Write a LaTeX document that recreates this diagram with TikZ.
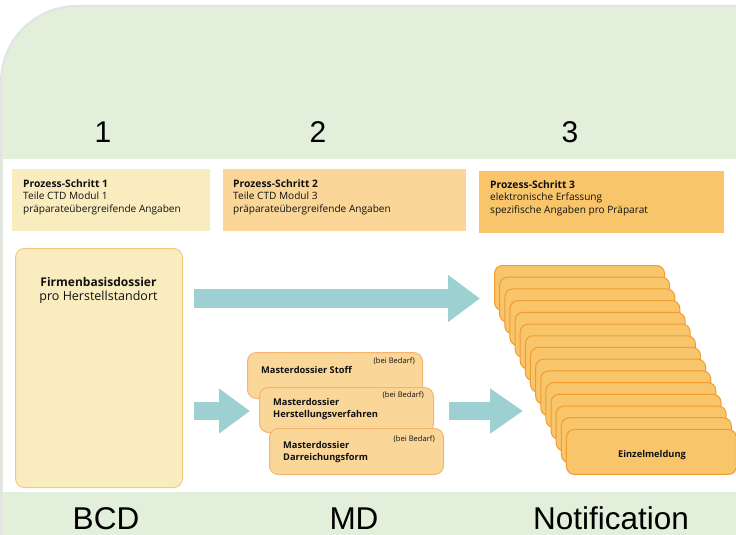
\documentclass[tikz,border=0pt]{standalone}
\usepackage{fontspec}
\setmainfont{Open Sans}
\newfontfamily\arialfont{Liberation Sans}
\usetikzlibrary{arrows.meta}
\definecolor{bggreen}{HTML}{E2EFDA}
\definecolor{bgedge}{HTML}{E3E3E3}
\definecolor{paleyellow}{HTML}{F9ECBE}
\definecolor{lightorange}{HTML}{FAD699}
\definecolor{midorange}{HTML}{F8C56B}
\definecolor{firmedge}{HTML}{F8C77F}
\definecolor{masteredge}{HTML}{F6B46E}
\definecolor{cardedge}{HTML}{F29C30}
\definecolor{teal}{HTML}{9DD0D1}
\definecolor{txt}{HTML}{111111}
\tikzset{
  procbox/.style={anchor=north west, inner sep=0pt, minimum height=62pt},
  proctitle/.style={anchor=base west, inner sep=0pt, text=txt, font=\fontsize{10.3}{12}\selectfont\bfseries},
  proctext/.style={anchor=base west, inner sep=0pt, text=txt, font=\fontsize{10.1}{12}\selectfont},
  masterbox/.style={anchor=north west, inner sep=0pt, rounded corners=9pt, fill=lightorange, draw=masteredge, line width=1pt, minimum width=175pt, minimum height=46pt},
  mastertext/.style={anchor=base west, inner sep=0pt, text=txt, font=\fontsize{9.3}{11}\selectfont\bfseries},
  bedarf/.style={anchor=base east, inner sep=0pt, text=txt, font=\fontsize{7.6}{9}\selectfont},
  card/.style={anchor=north west, inner sep=0pt, rounded corners=8pt, fill=midorange, draw=cardedge, line width=1pt, minimum width=170pt, minimum height=45pt},
  bignum/.style={inner sep=0pt, text=black, font=\arialfont\fontsize{30}{32}\selectfont},
  biglabel/.style={anchor=base, inner sep=0pt, text=black, font=\arialfont\fontsize{31.5}{34}\selectfont},
  blockarrow/.style={draw=teal, line width=#1},
}
\begin{document}
\begin{tikzpicture}[x=1pt, y=-1pt]
\useasboundingbox (0,0) rectangle (736,535);
% green background with rounded top-left corner
\path[fill=bggreen, draw=bgedge, line width=2pt] (1,545) -- (1,82) .. controls (1,40) and (35,6) .. (77,6) -- (745,6) -- (745,545) -- cycle;
% white panel
\fill[white] (3,159) rectangle (740,492);

% step numbers
\node[bignum] (n1) at (103,132) {1};
\node[bignum] (n2) at (318,132) {2};
\node[bignum] (n3) at (570,132) {3};

% process boxes
\node[procbox, fill=paleyellow, minimum width=198pt] (pb1) at (12,169) {};
\node[procbox, fill=lightorange, minimum width=243pt] (pb2) at (223,169) {};
\node[procbox, fill=midorange, minimum width=245pt] (pb3) at (479,171) {};

\node[proctitle] (p1a) at (23,187) {Prozess-Schritt 1};
\node[proctext] (p1b) at (23,199.5) {Teile CTD Modul 1};
\node[proctext] (p1c) at (23,212) {präparateübergreifende Angaben};

\node[proctitle] (p2a) at (233,187) {Prozess-Schritt 2};
\node[proctext] (p2b) at (233,199.5) {Teile CTD Modul 3};
\node[proctext] (p2c) at (233,212) {präparateübergreifende Angaben};

\node[proctitle] (p3a) at (490,188) {Prozess-Schritt 3};
\node[proctext] (p3b) at (490,200.5) {elektronische Erfassung};
\node[proctext] (p3c) at (490,213) {spezifische Angaben pro Präparat};

% Firmenbasisdossier
\node[anchor=north west, inner sep=0pt, rounded corners=9pt, fill=paleyellow, draw=firmedge, line width=1pt, minimum width=167pt, minimum height=239pt] (fbd) at (15,248) {};
\node[anchor=base, inner sep=0pt, text=txt, font=\fontsize{12}{14}\selectfont\bfseries] (fbda) at (98.5,286) {Firmenbasisdossier};
\node[anchor=base, inner sep=0pt, text=txt, font=\fontsize{12.5}{14}\selectfont] (fbdb) at (98.5,300.5) {pro Herstellstandort};

% arrow coordinates
\coordinate (a1s) at (194,298.5);
\coordinate (a1e) at (480,298.5);
\coordinate (a2s) at (194,411);
\coordinate (a2e) at (250,411);
\coordinate (a3s) at (449,411);
\coordinate (a3e) at (523,411);

% master dossiers
\node[masterbox] (mdA) at (247,352) {};
\node[mastertext] (mdAa) at (261,373) {Masterdossier Stoff};
\node[bedarf] (mdAb) at (415,363) {(bei Bedarf)};

\node[masterbox, minimum width=174pt, minimum height=45pt] (mdB) at (259,387) {};
\node[mastertext] (mdBa) at (273,405) {Masterdossier};
\node[mastertext] (mdBb) at (273,417.5) {Herstellungsverfahren};
\node[bedarf] (mdBc) at (424,397) {(bei Bedarf)};

\node[masterbox, minimum width=174pt] (mdC) at (269,428) {};
\node[mastertext] (mdCa) at (283,448) {Masterdossier};
\node[mastertext] (mdCb) at (283,460.5) {Darreichungsform};
\node[bedarf] (mdCc) at (435,441) {(bei Bedarf)};

% stack of notifications
\foreach \i in {0,...,14} {
  \node[card] (card\i) at ({494+5.14*\i},{265+11.71*\i}) {};
}
\node[anchor=base, inner sep=0pt, text=txt, font=\fontsize{9.3}{11}\selectfont\bfseries] (einz) at (652,457) {Einzelmeldung};

% block arrows
\draw[blockarrow=19pt, -{Triangle[length=32pt, width=45pt]}] (a1s) -- (a1e);
\draw[blockarrow=18pt, -{Triangle[length=31pt, width=43pt]}] (a2s) -- (a2e);
\draw[blockarrow=18pt, -{Triangle[length=33pt, width=43pt]}] (a3s) -- (a3e);

% bottom labels
\node[biglabel] (bcd) at (106,529.5) {BCD};
\node[biglabel] (md) at (354,529.5) {MD};
\node[biglabel] (notif) at (611,529.5) {Notification};
\end{tikzpicture}
\end{document}
